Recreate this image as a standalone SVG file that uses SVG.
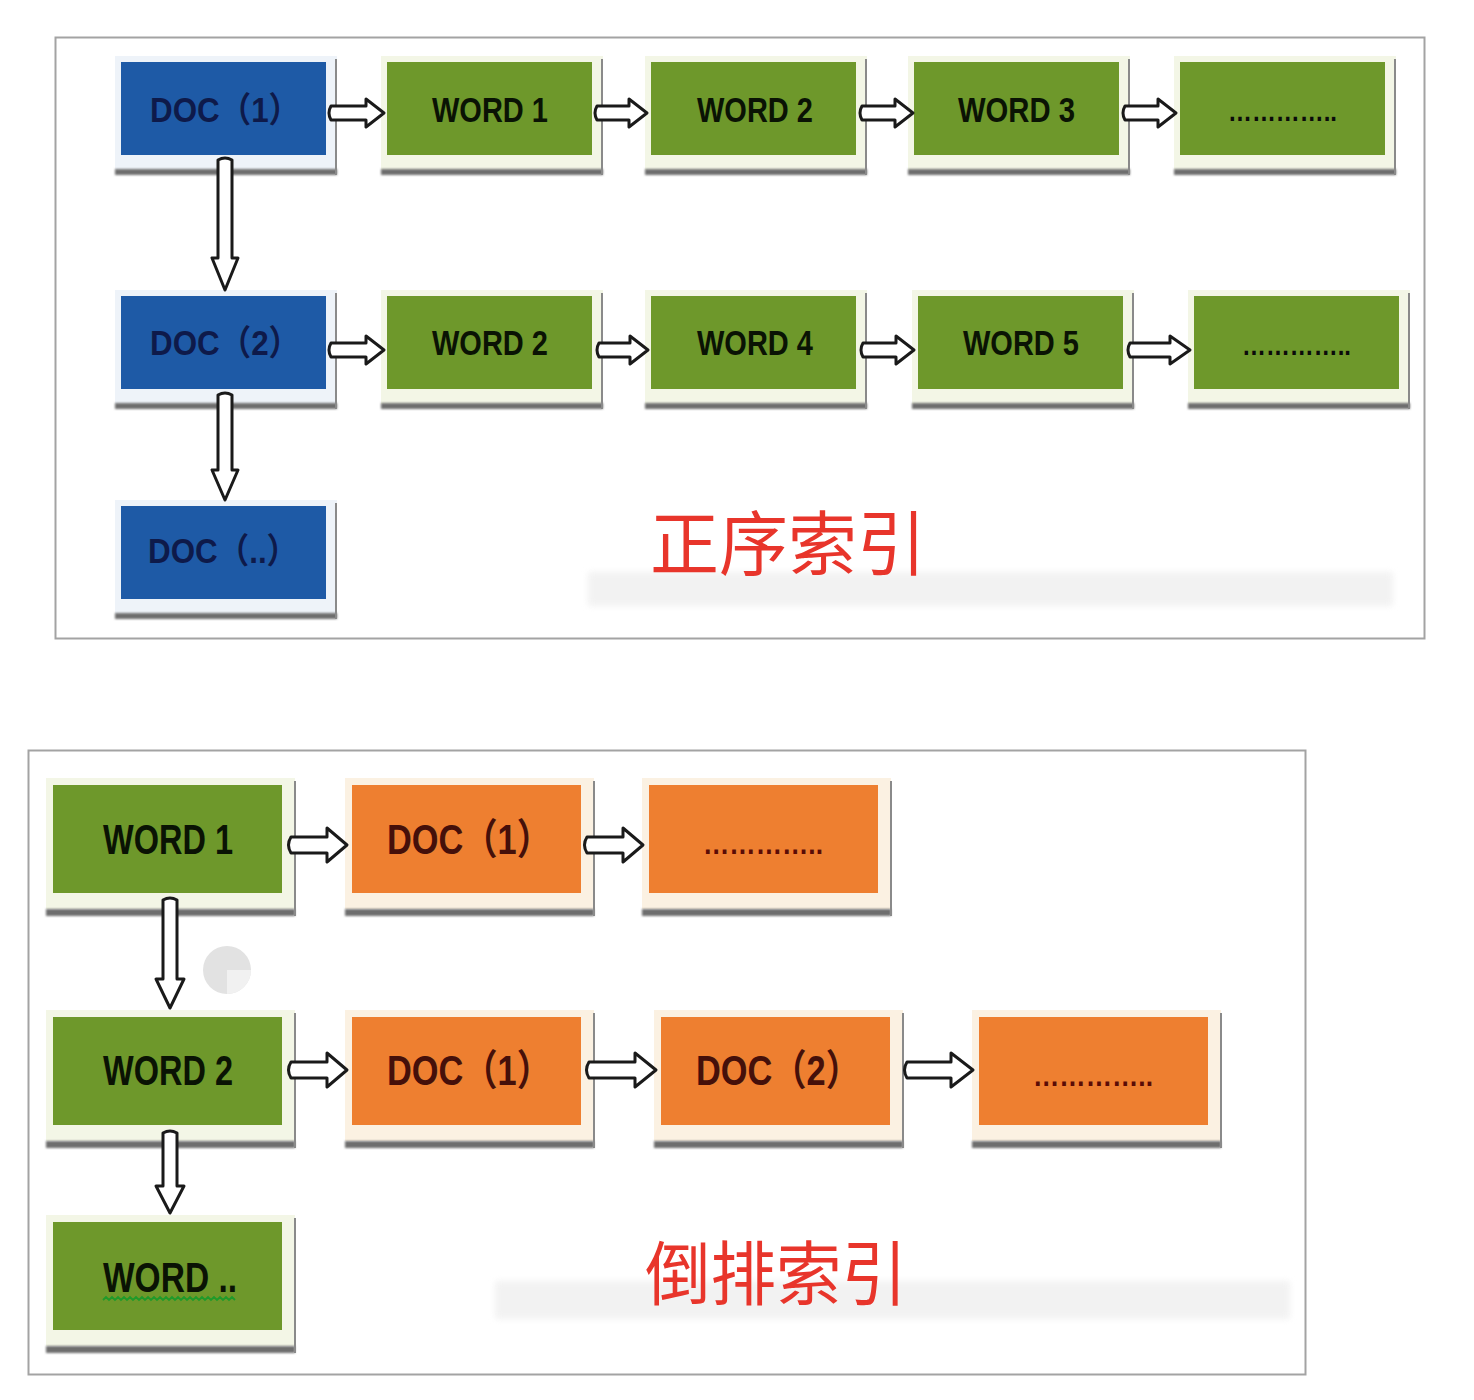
<svg xmlns="http://www.w3.org/2000/svg" width="1474" height="1400" viewBox="0 0 1474 1400">
<defs>
<style>
.panel{fill:#fff;stroke:#a3a3a3;stroke-width:2}
.fb{fill:#eef3f9}.fg{fill:#f3f6e6}.fo{fill:#fbf1e2}
.sh{fill:#6e6e6e}
.rl{fill:#8a8a8a}
.bl{fill:#1e5aa6}.gr{fill:#6e982b}.or{fill:#ee7f30}
.t{font-family:"Liberation Sans","Noto Sans CJK SC",sans-serif;font-weight:bold}
.tb{fill:#0e1a4a}.tg{fill:#0a1304}.to{fill:#45100a}
.dt{fill:#0a0a0a}.dto{fill:#5a0c06}
.arrow{fill:#fff;stroke:#1a1a1a;stroke-width:3;stroke-linejoin:round}
.lbl{font-family:"Noto Sans CJK SC",sans-serif;font-size:70px;fill:#e8352b}
.band{fill:#efefef}
</style>
<filter id="blur" x="-5%" y="-50%" width="110%" height="200%"><feGaussianBlur stdDeviation="3"/></filter>
<filter id="sblur" x="-5%" y="-100%" width="110%" height="300%"><feGaussianBlur stdDeviation="1"/></filter>
</defs>
<rect width="1474" height="1400" fill="#fff"/>

<!-- panels -->
<rect class="panel" x="55.5" y="37.5" width="1369" height="601"/>
<rect class="panel" x="28.5" y="750.5" width="1277" height="624"/>

<!-- faint bands -->
<g filter="url(#blur)" opacity="0.8">
<rect class="band" x="588" y="572" width="805" height="34"/>
<rect class="band" x="495" y="1281" width="795" height="38"/>
</g>

<!-- spinner artifact -->
<g id="spinner">
<circle cx="227" cy="970" r="24" fill="#e2e2e2"/>
<path d="M227 970 L251 970 A24 24 0 0 1 227 994 Z" fill="#f1f1f1"/>
</g>

<!-- top panel nodes -->
<g id="t-doc1" transform="translate(121,62)">
<rect class="fb" x="-6" y="-6" width="222" height="114"/><rect class="sh" x="-6" y="107" width="222" height="6" filter="url(#sblur)"/><rect class="rl" x="214" y="-3" width="2" height="116"/>
<rect class="bl" width="205" height="93"/>
<text class="t tb" x="29" y="60" font-size="35" textLength="150" lengthAdjust="spacingAndGlyphs">DOC（1）</text>
</g>
<g id="t-word1" transform="translate(387,62)">
<rect class="fg" x="-6" y="-6" width="222" height="114"/><rect class="sh" x="-6" y="107" width="222" height="6" filter="url(#sblur)"/><rect class="rl" x="214" y="-3" width="2" height="116"/>
<rect class="gr" width="205" height="93"/>
<text class="t tg" x="45" y="60" font-size="35" textLength="116" lengthAdjust="spacingAndGlyphs">WORD 1</text>
</g>
<g id="t-word2" transform="translate(651,62)">
<rect class="fg" x="-6" y="-6" width="222" height="114"/><rect class="sh" x="-6" y="107" width="222" height="6" filter="url(#sblur)"/><rect class="rl" x="214" y="-3" width="2" height="116"/>
<rect class="gr" width="205" height="93"/>
<text class="t tg" x="46" y="60" font-size="35" textLength="116" lengthAdjust="spacingAndGlyphs">WORD 2</text>
</g>
<g id="t-word3" transform="translate(914,62)">
<rect class="fg" x="-6" y="-6" width="222" height="114"/><rect class="sh" x="-6" y="107" width="222" height="6" filter="url(#sblur)"/><rect class="rl" x="214" y="-3" width="2" height="116"/>
<rect class="gr" width="205" height="93"/>
<text class="t tg" x="44" y="60" font-size="35" textLength="117" lengthAdjust="spacingAndGlyphs">WORD 3</text>
</g>
<g id="t-more1" transform="translate(1180,62)">
<rect class="fg" x="-6" y="-6" width="222" height="114"/><rect class="sh" x="-6" y="107" width="222" height="6" filter="url(#sblur)"/><rect class="rl" x="214" y="-3" width="2" height="116"/>
<rect class="gr" width="205" height="93"/>
<text class="t dt" x="48" y="59" font-size="28" textLength="109" lengthAdjust="spacingAndGlyphs">…………..</text>
</g>

<g id="t-doc2" transform="translate(121,296)">
<rect class="fb" x="-6" y="-6" width="222" height="114"/><rect class="sh" x="-6" y="107" width="222" height="6" filter="url(#sblur)"/><rect class="rl" x="214" y="-3" width="2" height="116"/>
<rect class="bl" width="205" height="93"/>
<text class="t tb" x="29" y="59" font-size="35" textLength="150" lengthAdjust="spacingAndGlyphs">DOC（2）</text>
</g>
<g id="t-word2b" transform="translate(387,296)">
<rect class="fg" x="-6" y="-6" width="222" height="114"/><rect class="sh" x="-6" y="107" width="222" height="6" filter="url(#sblur)"/><rect class="rl" x="214" y="-3" width="2" height="116"/>
<rect class="gr" width="205" height="93"/>
<text class="t tg" x="45" y="59" font-size="35" textLength="116" lengthAdjust="spacingAndGlyphs">WORD 2</text>
</g>
<g id="t-word4" transform="translate(651,296)">
<rect class="fg" x="-6" y="-6" width="222" height="114"/><rect class="sh" x="-6" y="107" width="222" height="6" filter="url(#sblur)"/><rect class="rl" x="214" y="-3" width="2" height="116"/>
<rect class="gr" width="205" height="93"/>
<text class="t tg" x="46" y="59" font-size="35" textLength="116" lengthAdjust="spacingAndGlyphs">WORD 4</text>
</g>
<g id="t-word5" transform="translate(918,296)">
<rect class="fg" x="-6" y="-6" width="222" height="114"/><rect class="sh" x="-6" y="107" width="222" height="6" filter="url(#sblur)"/><rect class="rl" x="214" y="-3" width="2" height="116"/>
<rect class="gr" width="205" height="93"/>
<text class="t tg" x="45" y="59" font-size="35" textLength="116" lengthAdjust="spacingAndGlyphs">WORD 5</text>
</g>
<g id="t-more2" transform="translate(1194,296)">
<rect class="fg" x="-6" y="-6" width="222" height="114"/><rect class="sh" x="-6" y="107" width="222" height="6" filter="url(#sblur)"/><rect class="rl" x="214" y="-3" width="2" height="116"/>
<rect class="gr" width="205" height="93"/>
<text class="t dt" x="48" y="59" font-size="28" textLength="109" lengthAdjust="spacingAndGlyphs">…………..</text>
</g>

<g id="t-docn" transform="translate(121,506)">
<rect class="fb" x="-6" y="-6" width="222" height="114"/><rect class="sh" x="-6" y="107" width="222" height="6" filter="url(#sblur)"/><rect class="rl" x="214" y="-3" width="2" height="116"/>
<rect class="bl" width="205" height="93"/>
<text class="t tb" x="27" y="57" font-size="35" textLength="150" lengthAdjust="spacingAndGlyphs">DOC（..）</text>
</g>

<!-- bottom panel nodes -->
<g id="b-word1" transform="translate(53,785)">
<rect class="fg" x="-7" y="-7" width="249" height="131"/><rect class="sh" x="-7" y="124" width="249" height="7" filter="url(#sblur)"/><rect class="rl" x="241" y="-4" width="2" height="135"/>
<rect class="gr" width="229" height="108"/>
<text class="t tg" x="50" y="69" font-size="42" textLength="130" lengthAdjust="spacingAndGlyphs">WORD 1</text>
</g>
<g id="b-doc1" transform="translate(352,785)">
<rect class="fo" x="-7" y="-7" width="249" height="131"/><rect class="sh" x="-7" y="124" width="249" height="7" filter="url(#sblur)"/><rect class="rl" x="241" y="-4" width="2" height="135"/>
<rect class="or" width="229" height="108"/>
<text class="t to" x="35" y="69" font-size="42" textLength="164" lengthAdjust="spacingAndGlyphs">DOC（1）</text>
</g>
<g id="b-more1" transform="translate(649,785)">
<rect class="fo" x="-7" y="-7" width="249" height="131"/><rect class="sh" x="-7" y="124" width="249" height="7" filter="url(#sblur)"/><rect class="rl" x="241" y="-4" width="2" height="135"/>
<rect class="or" width="229" height="108"/>
<text class="t dto" x="54" y="69" font-size="30" textLength="120" lengthAdjust="spacingAndGlyphs">…………..</text>
</g>

<g id="b-word2" transform="translate(53,1017)">
<rect class="fg" x="-7" y="-7" width="249" height="131"/><rect class="sh" x="-7" y="124" width="249" height="7" filter="url(#sblur)"/><rect class="rl" x="241" y="-4" width="2" height="135"/>
<rect class="gr" width="229" height="108"/>
<text class="t tg" x="50" y="68" font-size="42" textLength="130" lengthAdjust="spacingAndGlyphs">WORD 2</text>
</g>
<g id="b-doc1b" transform="translate(352,1017)">
<rect class="fo" x="-7" y="-7" width="249" height="131"/><rect class="sh" x="-7" y="124" width="249" height="7" filter="url(#sblur)"/><rect class="rl" x="241" y="-4" width="2" height="135"/>
<rect class="or" width="229" height="108"/>
<text class="t to" x="35" y="68" font-size="42" textLength="164" lengthAdjust="spacingAndGlyphs">DOC（1）</text>
</g>
<g id="b-doc2" transform="translate(661,1017)">
<rect class="fo" x="-7" y="-7" width="249" height="131"/><rect class="sh" x="-7" y="124" width="249" height="7" filter="url(#sblur)"/><rect class="rl" x="241" y="-4" width="2" height="135"/>
<rect class="or" width="229" height="108"/>
<text class="t to" x="35" y="68" font-size="42" textLength="164" lengthAdjust="spacingAndGlyphs">DOC（2）</text>
</g>
<g id="b-more2" transform="translate(979,1017)">
<rect class="fo" x="-7" y="-7" width="249" height="131"/><rect class="sh" x="-7" y="124" width="249" height="7" filter="url(#sblur)"/><rect class="rl" x="241" y="-4" width="2" height="135"/>
<rect class="or" width="229" height="108"/>
<text class="t dto" x="54" y="69" font-size="30" textLength="120" lengthAdjust="spacingAndGlyphs">…………..</text>
</g>

<g id="b-wordn" transform="translate(53,1222)">
<rect class="fg" x="-7" y="-7" width="249" height="131"/><rect class="sh" x="-7" y="124" width="249" height="7" filter="url(#sblur)"/><rect class="rl" x="241" y="-4" width="2" height="135"/>
<rect class="gr" width="229" height="108"/>
<text class="t tg" x="50" y="70" font-size="42" textLength="134" lengthAdjust="spacingAndGlyphs">WORD ..</text>
<path d="M50 78 l3 -3 l3 3 l3 -3 l3 3 l3 -3 l3 3 l3 -3 l3 3 l3 -3 l3 3 l3 -3 l3 3 l3 -3 l3 3 l3 -3 l3 3 l3 -3 l3 3 l3 -3 l3 3 l3 -3 l3 3 l3 -3 l3 3 l3 -3 l3 3 l3 -3 l3 3 l3 -3 l3 3 l3 -3 l3 3 l3 -3 l3 3 l3 -3 l3 3 l3 -3 l3 3 l3 -3 l3 3 l3 -3 l3 3 l3 -3 l3 3" fill="none" stroke="#1f9a2a" stroke-width="1.8"/>
</g>

<!-- labels -->
<text class="lbl" x="650" y="570" textLength="276" lengthAdjust="spacingAndGlyphs">正序索引</text>
<text class="lbl" x="645" y="1300" textLength="262" lengthAdjust="spacingAndGlyphs">倒排索引</text>

<!-- connectors -->
<g id="connectors">
<!-- top row 1 (cy 113) -->
<path class="arrow" d="M331 106 L366 106 L366 99 L384 113 L366 127 L366 120 L331 120 Q327 113 331 106 Z"/>
<path class="arrow" d="M597 106 L629 106 L629 99 L647 113 L629 127 L629 120 L597 120 Q593 113 597 106 Z"/>
<path class="arrow" d="M862 106 L895 106 L895 99 L913 113 L895 127 L895 120 L862 120 Q858 113 862 106 Z"/>
<path class="arrow" d="M1125 106 L1158 106 L1158 99 L1176 113 L1158 127 L1158 120 L1125 120 Q1121 113 1125 106 Z"/>
<!-- top row 2 (cy 350) -->
<path class="arrow" d="M331 343 L366 343 L366 336 L384 350 L366 364 L366 357 L331 357 Q327 350 331 343 Z"/>
<path class="arrow" d="M599 343 L630 343 L630 336 L648 350 L630 364 L630 357 L599 357 Q595 350 599 343 Z"/>
<path class="arrow" d="M863 343 L896 343 L896 336 L914 350 L896 364 L896 357 L863 357 Q859 350 863 343 Z"/>
<path class="arrow" d="M1130 343 L1170 343 L1170 336 L1190 350 L1170 364 L1170 357 L1130 357 Q1126 350 1130 343 Z"/>
<!-- top verticals -->
<path class="arrow" d="M218 160 Q225 156 232 160 L232 258 L238 258 L225 290 L212 258 L218 258 Z"/>
<path class="arrow" d="M218 395 Q225 391 232 395 L232 470 L238 470 L225 500 L212 470 L218 470 Z"/>
<!-- bottom row 1 (cy 845) -->
<path class="arrow" d="M291 837 L327 837 L327 828 L347 845 L327 862 L327 853 L291 853 Q286 845 291 837 Z"/>
<path class="arrow" d="M587 837 L623 837 L623 828 L643 845 L623 862 L623 853 L587 853 Q582 845 587 837 Z"/>
<!-- bottom row 2 (cy 1070) -->
<path class="arrow" d="M291 1062 L327 1062 L327 1053 L347 1070 L327 1087 L327 1078 L291 1078 Q286 1070 291 1062 Z"/>
<path class="arrow" d="M589 1062 L635 1062 L635 1053 L656 1070 L635 1087 L635 1078 L589 1078 Q584 1070 589 1062 Z"/>
<path class="arrow" d="M907 1062 L951 1062 L951 1053 L973 1070 L951 1087 L951 1078 L907 1078 Q902 1070 907 1062 Z"/>
<!-- bottom verticals -->
<path class="arrow" d="M163 900 Q170 896 177 900 L177 979 L184 979 L170 1008 L156 979 L163 979 Z"/>
<path class="arrow" d="M163 1133 Q170 1129 177 1133 L177 1186 L184 1186 L170 1213 L156 1186 L163 1186 Z"/>
</g>
</svg>
